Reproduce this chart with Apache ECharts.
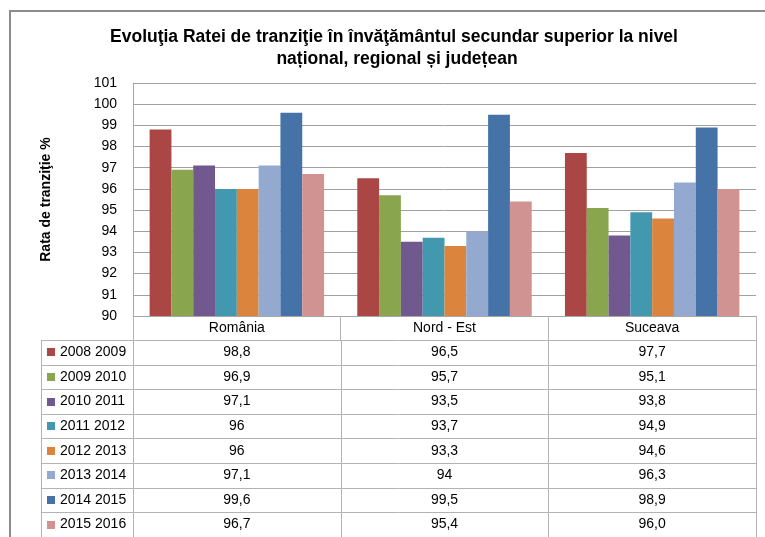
<!DOCTYPE html>
<html>
<head>
<meta charset="utf-8">
<script src="https://cdn.jsdelivr.net/npm/echarts@6/dist/echarts.min.js"></script>
<style>
  html, body { margin: 0; padding: 0; background: #fff; }
  #main { width: 765px; height: 537px; }
</style>
</head>
<body>
<div id="main"></div>
<script>
// date citite din tabel
var regions = ['România', 'Nord - Est', 'Suceava'];
var years = ['2008 2009', '2009 2010', '2010 2011', '2011 2012', '2012 2013', '2013 2014', '2014 2015', '2015 2016'];
var romania = ['98,8', '96,9', '97,1', '96', '96', '97,1', '99,6', '96,7'];
var nordEst = ['96,5', '95,7', '93,5', '93,7', '93,3', '94', '99,5', '95,4'];
var suceava = ['97,7', '95,1', '93,8', '94,9', '94,6', '96,3', '98,9', '96,0'];
var yMin = 90, yMax = 101, yStep = 1;
var colors = ['#AA4643', '#89A54E', '#71588F', '#4198AF', '#DB843D', '#93A9CF', '#4572A7', '#D19392'];

var columns = [romania, nordEst, suceava];
var FONT = '"Liberation Sans", Arial, sans-serif';

// pozitii
var gridLeft = 133, gridRight = 756, gridTop = 83, gridBottom = 316;
var tableTop = 340, tableLeft = 41, rowH = 24.6;

function toNum(s) { return parseFloat(s.replace(',', '.')); }

function loadChart() {
	var chart = echarts.init(document.getElementById('main'));

	var series = years.map(function (y, i) {
		return {
			type: 'bar',
			name: y,
			data: columns.map(function (c) { return toNum(c[i]); }),
			barGap: 0,
			barCategoryGap: '16%',
			itemStyle: { color: colors[i] }
		};
	});

	// tabelul de date de sub grafic
	var lineStyle = { stroke: '#b3b3b3', lineWidth: 1 };
	var elements = [];
	var colW = (gridRight - gridLeft) / regions.length;
	for (var k = 0; k <= years.length; k++) {
		var yy = Math.round(tableTop + k * rowH) + 0.5;
		elements.push({ type: 'line', shape: { x1: tableLeft, y1: yy, x2: gridRight, y2: yy }, style: lineStyle, silent: true });
	}
	var vx = [tableLeft, gridLeft];
	for (var c = 1; c <= regions.length; c++) vx.push(gridLeft + c * colW);
	vx.forEach(function (x) {
		var xx = Math.round(x) + 0.5;
		elements.push({ type: 'line', shape: { x1: xx, y1: tableTop, x2: xx, y2: 537 }, style: lineStyle, silent: true });
	});
	years.forEach(function (y, i) {
		var cy = tableTop + (i + 0.5) * rowH;
		elements.push({ type: 'rect', shape: { x: 47, y: Math.round(cy - 4), width: 8, height: 8 }, style: { fill: colors[i] }, silent: true });
		elements.push({ type: 'text', x: 60, y: cy, style: { text: y, font: '14px ' + FONT, fill: '#000', verticalAlign: 'middle', align: 'left' }, silent: true });
		columns.forEach(function (col, j) {
			elements.push({ type: 'text', x: gridLeft + (j + 0.5) * colW, y: cy, style: { text: col[i], font: '14px ' + FONT, fill: '#000', verticalAlign: 'middle', align: 'center' }, silent: true });
		});
	});
	// chenarul exterior
	elements.push({ type: 'rect', shape: { x: 10, y: 11, width: 800, height: 600 }, style: { fill: 'none', stroke: '#8c8c8c', lineWidth: 2 }, silent: true });

	var option = {
		animation: false,
		backgroundColor: '#fff',
		title: [
			{
				text: 'Evoluţia Ratei de tranziţie în învăţământul secundar superior la nivel',
				left: 389, top: 23, textAlign: 'center',
				textStyle: { fontFamily: FONT, fontSize: 17.5, fontWeight: 'bold', color: '#000' }
			},
			{
				text: 'național, regional și județean',
				left: 392, top: 45, textAlign: 'center',
				textStyle: { fontFamily: FONT, fontSize: 17.5, fontWeight: 'bold', color: '#000' }
			}
		],
		grid: { left: gridLeft, right: 765 - gridRight, top: gridTop, bottom: 537 - gridBottom, containLabel: false },
		xAxis: {
			type: 'category',
			data: regions,
			axisLine: { lineStyle: { color: '#a6a6a6', width: 1 } },
			axisTick: { show: true, length: 24, lineStyle: { color: '#b3b3b3' } },
			axisLabel: { fontFamily: FONT, fontSize: 14, color: '#000', margin: 5 }
		},
		yAxis: {
			type: 'value',
			min: yMin, max: yMax, interval: yStep,
			name: 'Rata de tranziţie %',
			nameLocation: 'middle',
			nameGap: 80,
			nameTextStyle: { fontFamily: FONT, fontSize: 14, fontWeight: 'bold', color: '#000' },
			axisLine: { show: true, lineStyle: { color: '#a6a6a6' } },
			axisTick: { show: false },
			axisLabel: { fontFamily: FONT, fontSize: 14, color: '#000', margin: 16 },
			splitLine: { lineStyle: { color: '#a0a0a0', width: 1 } }
		},
		series: series,
		graphic: { elements: elements }
	};
	chart.setOption(option);
}

loadChart();
</script>
</body>
</html>
